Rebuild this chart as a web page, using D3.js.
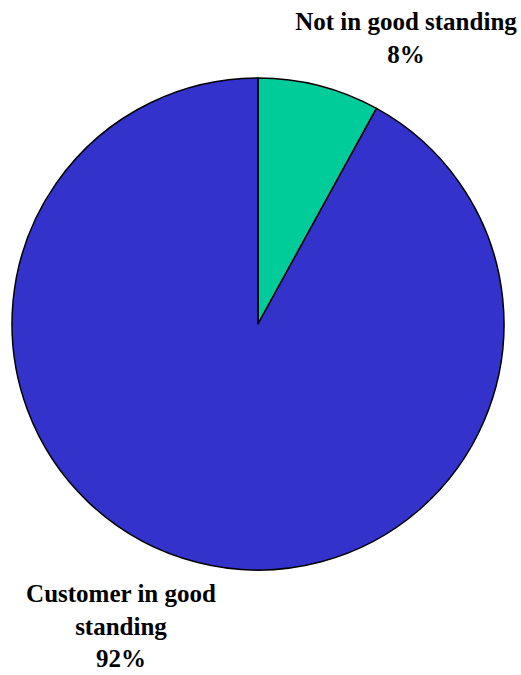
<!DOCTYPE html>
<html>
<head>
<meta charset="utf-8">
<script src="https://cdn.jsdelivr.net/npm/d3@7"></script>
<style>
  html, body { margin: 0; padding: 0; background: #fff; }
  svg { display: block; }
  text { font-family: "Liberation Serif", "Times New Roman", serif; font-weight: bold; font-size: 25px; fill: #000; }
</style>
</head>
<body>
<svg id="chart" width="521" height="675"></svg>
<script>
// Account standing shares (percent)
const categories = ["Not in good standing", "Customer in good standing"];
const values = [8, 92];
const colors = ["#00CC99", "#3333CC"];
// Label lines for each slice (name lines, then percentage)
const labelLines = [
  ["Not in good standing", "8%"],
  ["Customer in good", "standing", "92%"]
];

const svg = d3.select("#chart");
const cx = 258, cy = 324, r = 246;

const pie = d3.pie().sort(null).value(d => d)(values);
const arc = d3.arc().innerRadius(0).outerRadius(r);

const g = svg.append("g").attr("transform", `translate(${cx},${cy})`);
g.selectAll("path")
  .data(pie)
  .join("path")
  .attr("d", arc)
  .attr("fill", (d, i) => colors[i])
  .attr("stroke", "#000")
  .attr("stroke-width", 1.5)
  .attr("stroke-linejoin", "round");

// Label anchor positions
const labelPos = [
  { x: 406, y: 30, lh: 33 },
  { x: 121, y: 602, lh: 32.5 }
];

labelLines.forEach((lines, i) => {
  const p = labelPos[i];
  const t = svg.append("text")
    .attr("text-anchor", "middle")
    .attr("x", p.x)
    .attr("y", p.y);
  lines.forEach((ln, j) => {
    t.append("tspan")
      .attr("x", p.x)
      .attr("dy", j === 0 ? 0 : p.lh)
      .text(ln);
  });
});
</script>
</body>
</html>
